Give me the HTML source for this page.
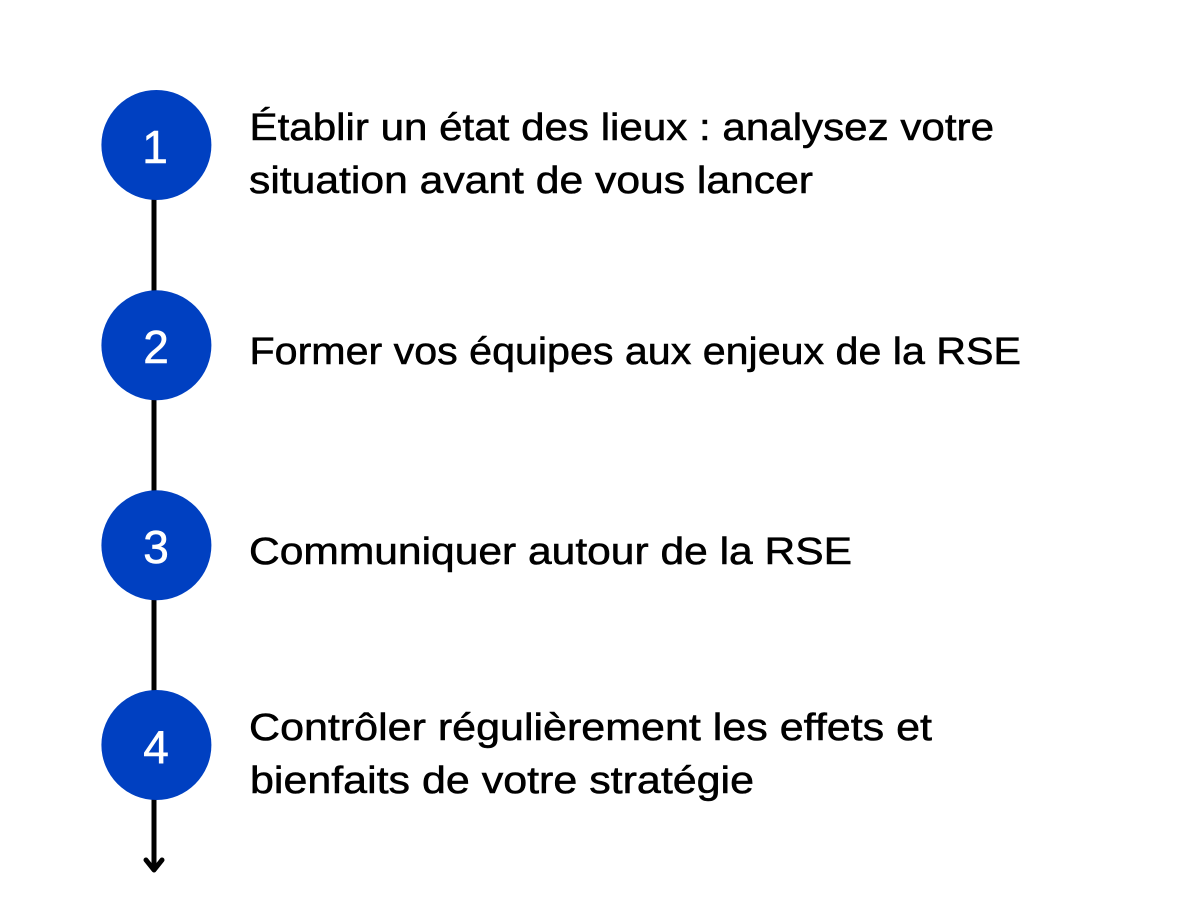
<!DOCTYPE html>
<html lang="fr">
<head>
<meta charset="utf-8">
<title>RSE</title>
<style>
html,body{margin:0;padding:0;background:#fff;width:1200px;height:900px;overflow:hidden}
svg{display:block}
.t{font-family:"Liberation Sans",sans-serif;font-size:38px;fill:#000;stroke:#000;stroke-width:.55px}
.n{font-family:"Liberation Sans",sans-serif;font-size:46px;fill:#fff;stroke:#fff;stroke-width:.6px;text-anchor:middle}
</style>
</head>
<body>
<svg width="1200" height="900" viewBox="0 0 1200 900" xmlns="http://www.w3.org/2000/svg">
<rect width="1200" height="900" fill="#fff"/>
<line x1="154" y1="190" x2="154" y2="870" stroke="#000" stroke-width="5"/>
<polyline points="146,860 154,870 162,860" fill="none" stroke="#000" stroke-width="5" stroke-linecap="round" stroke-linejoin="round"/>
<circle cx="156.4" cy="145" r="55" fill="#0040c1"/>
<circle cx="156.4" cy="345.3" r="55" fill="#0040c1"/>
<circle cx="156.4" cy="545.3" r="55" fill="#0040c1"/>
<circle cx="156.4" cy="745" r="55" fill="#0040c1"/>
<text class="n" x="155" y="163">1</text>
<text class="n" x="156" y="363">2</text>
<text class="n" x="156" y="563">3</text>
<text class="n" x="156" y="763">4</text>
<text class="t" x="249.5" y="140" textLength="744.5" lengthAdjust="spacingAndGlyphs">Établir un état des lieux : analysez votre</text>
<text class="t" x="249" y="193" textLength="564" lengthAdjust="spacingAndGlyphs">situation avant de vous lancer</text>
<text class="t" x="249.5" y="364" textLength="771.5" lengthAdjust="spacingAndGlyphs">Former vos équipes aux enjeux de la RSE</text>
<text class="t" x="249" y="564" textLength="603" lengthAdjust="spacingAndGlyphs">Communiquer autour de la RSE</text>
<text class="t" x="249" y="740" textLength="683" lengthAdjust="spacingAndGlyphs">Contrôler régulièrement les effets et</text>
<text class="t" x="250" y="793" textLength="504" lengthAdjust="spacingAndGlyphs">bienfaits de votre stratégie</text>
</svg>
</body>
</html>
